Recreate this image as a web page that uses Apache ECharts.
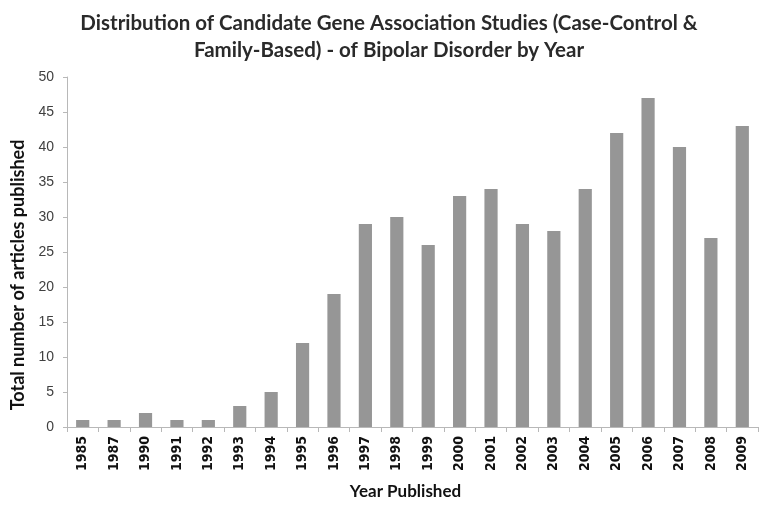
<!DOCTYPE html>
<html><head><meta charset="utf-8">
<script src="https://cdn.jsdelivr.net/npm/echarts@6/dist/echarts.min.js"></script>
<style>html,body{margin:0;padding:0;background:#fff}#c{width:769px;height:507px}</style>
</head><body><div id="c"></div>
<script>
var years = ['1985','1987','1990','1991','1992','1993','1994','1995','1996','1997','1998','1999','2000','2001','2002','2003','2004','2005','2006','2007','2008','2009'];
var articles = [1,1,2,1,1,3,5,12,19,29,30,26,33,34,29,28,34,42,47,40,27,43];
var yTicks = {min:0, max:50, interval:5};
var titleText = 'Distribution of Candidate Gene Association Studies (Case-Control &\nFamily-Based) - of Bipolar Disorder by Year';

var chart = echarts.init(document.getElementById('c'));
chart.setOption({
  animation:false,
  title:{text:titleText, left:384, textAlign:'center', top:5,
    textStyle:{fontFamily:'Lato', fontSize:20.5, fontWeight:'bold', color:'#2a2a2a', lineHeight:27}},
  grid:{left:67, right:11, top:77, bottom:80},
  xAxis:{type:'category', data:years,
    name:'Year Published', nameLocation:'middle', nameGap:56,
    nameTextStyle:{fontFamily:'Lato', fontWeight:'bold', fontSize:17, color:'#111', padding:[0,14,0,0]},
    axisLine:{lineStyle:{color:'#b8b8b8'}},
    axisTick:{show:true, alignWithLabel:false, length:5, lineStyle:{color:'#b8b8b8'}},
    axisLabel:{rotate:90, interval:0, fontFamily:'DejaVu Sans Condensed, Liberation Sans', fontWeight:'bold', fontSize:14, color:'#111', margin:9}},
  yAxis:{type:'value', min:yTicks.min, max:yTicks.max, interval:yTicks.interval,
    name:'Total number of articles published', nameLocation:'middle', nameGap:40,
    nameTextStyle:{fontFamily:'Lato', fontWeight:'bold', fontSize:18, color:'#111', padding:[0,46,0,0]},
    axisLine:{show:true, lineStyle:{color:'#b8b8b8'}},
    axisTick:{show:true, length:4, lineStyle:{color:'#b8b8b8'}},
    splitLine:{show:false},
    axisLabel:{fontFamily:'Liberation Sans', fontSize:14, color:'#404040', margin:13}},
  series:[{type:'bar', data:articles, barWidth:'42%', itemStyle:{color:'#969696'}}]
});
</script></body></html>
